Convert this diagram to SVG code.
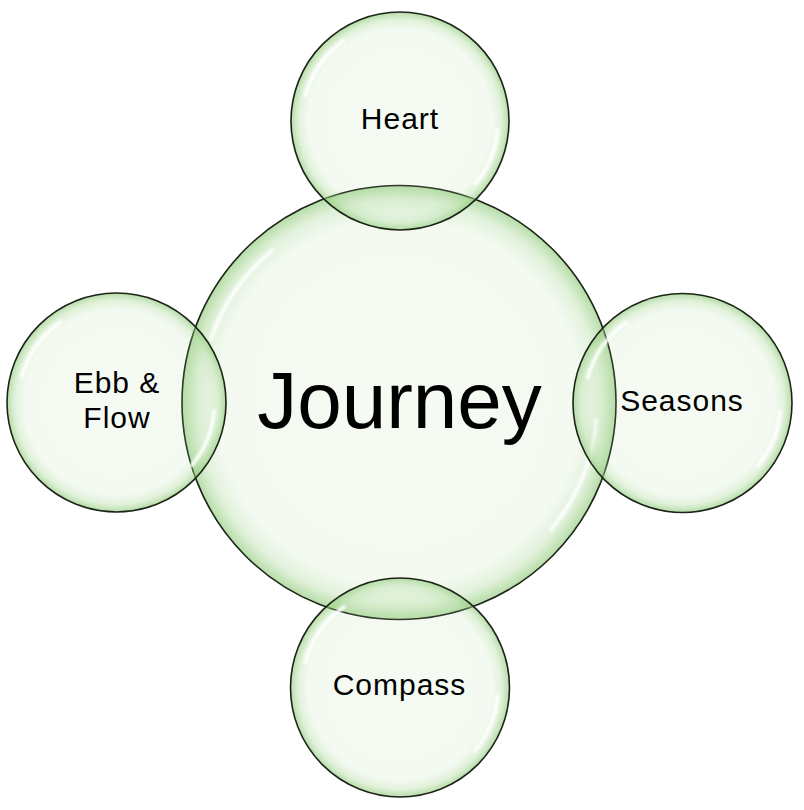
<svg xmlns="http://www.w3.org/2000/svg" width="804" height="810" viewBox="0 0 804 810">
  <defs>
    <radialGradient id="bubble" cx="0.5" cy="0.5" r="0.5">
      <stop offset="0" stop-color="#a8d896" stop-opacity="0.11"/>
      <stop offset="0.84" stop-color="#a8d896" stop-opacity="0.13"/>
      <stop offset="0.93" stop-color="#a0d48c" stop-opacity="0.32"/>
      <stop offset="1" stop-color="#92cc7c" stop-opacity="0.68"/>
    </radialGradient>
    <filter id="soft" x="-20%" y="-20%" width="140%" height="140%">
      <feGaussianBlur stdDeviation="1.2"/>
    </filter>
    <g id="gloss-s">
      <path d="M -94.7,-25.4 A 98 98 0 0 1 -56.2,-80.3"/>
      <path d="M 97.6,8.5 A 98 98 0 0 1 75.1,63.0"/>
    </g>
  </defs>
  <style>
    .bubble { fill: url(#bubble); stroke: #1c2418; stroke-width: 1.6; }
    .gloss { fill: none; stroke: #ffffff; stroke-width: 4; stroke-linecap: round; opacity: 0.9; filter: url(#soft); }
    .label { font-family: "Liberation Sans", Arial, sans-serif; font-size: 30px; letter-spacing: 1px; fill: #000000; text-anchor: middle; }
    .main { font-family: "Liberation Sans", Arial, sans-serif; font-size: 80px; fill: #000000; text-anchor: middle; }
  </style>
  <rect width="804" height="810" fill="#ffffff"/>

  <g id="connectors"></g>

  <g id="journey">
    <circle class="bubble" cx="399" cy="402.5" r="217"/>
    <g class="gloss" transform="translate(399,402.5)">
      <path d="M -187.6,-64.5 A 198 198 0 0 1 -127.3,-151.7"/>
      <path d="M 197.2,17.3 A 198 198 0 0 1 151.7,127.3"/>
    </g>
    <text class="main" x="399.5" y="428">Journey</text>
  </g>

  <g id="heart">
    <circle class="bubble" cx="400" cy="121" r="109"/>
    <use href="#gloss-s" class="gloss" transform="translate(400,121)"/>
    <text class="label" x="400" y="129">Heart</text>
  </g>

  <g id="ebb-flow">
    <circle class="bubble" cx="116.5" cy="402.5" r="109.5"/>
    <use href="#gloss-s" class="gloss" transform="translate(116.5,402.5)"/>
    <text class="label" x="117" y="393">Ebb &amp;</text>
    <text class="label" x="117" y="428">Flow</text>
  </g>

  <g id="seasons">
    <circle class="bubble" cx="682.5" cy="403" r="109.5"/>
    <use href="#gloss-s" class="gloss" transform="translate(682.5,403)"/>
    <text class="label" x="682" y="411">Seasons</text>
  </g>

  <g id="compass">
    <circle class="bubble" cx="400" cy="687.5" r="109.5"/>
    <use href="#gloss-s" class="gloss" transform="translate(400,687.5)"/>
    <text class="label" x="399.5" y="695">Compass</text>
  </g>
</svg>
